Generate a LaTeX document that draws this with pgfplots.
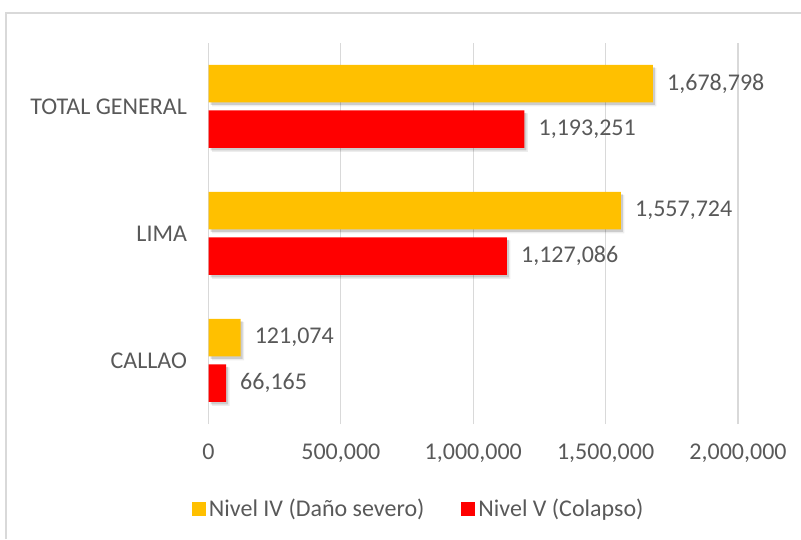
\documentclass[border=0pt]{standalone}
\usepackage{pgfplots}
\pgfplotsset{compat=1.18}
\usepackage{fontspec}
\setmainfont{Carlito}
\definecolor{gold}{HTML}{FFC000}
\definecolor{redbar}{HTML}{FF0000}
\definecolor{txt}{HTML}{595959}
\definecolor{gridc}{HTML}{D9D9D9}
\begin{document}
\begin{tikzpicture}
\path[use as bounding box] (0,0) rectangle (801pt,539pt);
\draw[gridc, line width=1.2pt] (6pt,0) -- (6pt,526pt) -- (801pt,526pt);
\begin{axis}[
  at={(208.5pt,115pt)}, anchor=south west,
  scale only axis, width=529.5pt, height=381pt,
  xbar, bar width=37.5pt,
  xmin=0, xmax=2000000,
  ymin=-0.5, ymax=2.5,
  ytick={0,1,2}, yticklabels={CALLAO,LIMA,TOTAL GENERAL},
  xtick={0,500000,1000000,1500000,2000000},
  xticklabels={0,{500,000},{1,000,000},{1,500,000},{2,000,000}},
  scaled x ticks=false,
  axis line style={draw=none},
  major tick length=0pt,
  xmajorgrids, major grid style={gridc, line width=1.2pt},
  tick label style={font=\fontsize{24}{29}\selectfont, text=txt},
  xticklabel style={yshift=-16pt},
  yticklabel style={xshift=-18pt},
  legend columns=2,
  legend style={at={(0.398,-0.223)}, anchor=center, draw=none, fill=none,
    font=\fontsize{24}{29}\selectfont, text=txt,
    nodes={inner sep=3pt},
    /tikz/every even column/.append style={column sep=34pt}},
  clip=false,
]
% soft shadows
\addplot[fill=black, opacity=0.07, draw=none, bar shift=19.5pt, bar width=38.5pt, xshift=3.5pt, forget plot]
  coordinates {(121074,0) (1557724,1) (1678798,2)};
\addplot[fill=black, opacity=0.14, draw=none, bar shift=20.5pt, xshift=2pt, forget plot]
  coordinates {(121074,0) (1557724,1) (1678798,2)};
\addplot[fill=black, opacity=0.07, draw=none, bar shift=-26pt, bar width=38.5pt, xshift=3.5pt, forget plot]
  coordinates {(66165,0) (1127086,1) (1193251,2)};
\addplot[fill=black, opacity=0.14, draw=none, bar shift=-25pt, xshift=2pt, forget plot]
  coordinates {(66165,0) (1127086,1) (1193251,2)};
% bars
\addplot[fill=gold, draw=none, bar shift=23pt,
  legend image code/.code={\fill[gold] (0pt,-7pt) rectangle (14pt,7pt);},
  point meta=explicit symbolic,
  nodes near coords,
  every node near coord/.append style={anchor=west, inner sep=0pt, xshift=14pt,
    font=\fontsize{24}{29}\selectfont, text=txt}]
  coordinates {(121074,0) [121,074] (1557724,1) [1,557,724] (1678798,2) [1,678,798]};
\addlegendentry{Nivel IV (Daño severo)}
\addplot[fill=redbar, draw=none, bar shift=-22.5pt,
  legend image code/.code={\fill[redbar] (0pt,-7pt) rectangle (14pt,7pt);},
  point meta=explicit symbolic,
  nodes near coords,
  every node near coord/.append style={anchor=west, inner sep=0pt, xshift=14pt,
    font=\fontsize{24}{29}\selectfont, text=txt}]
  coordinates {(66165,0) [66,165] (1127086,1) [1,127,086] (1193251,2) [1,193,251]};
\addlegendentry{Nivel V (Colapso)}
\end{axis}
\end{tikzpicture}
\end{document}
